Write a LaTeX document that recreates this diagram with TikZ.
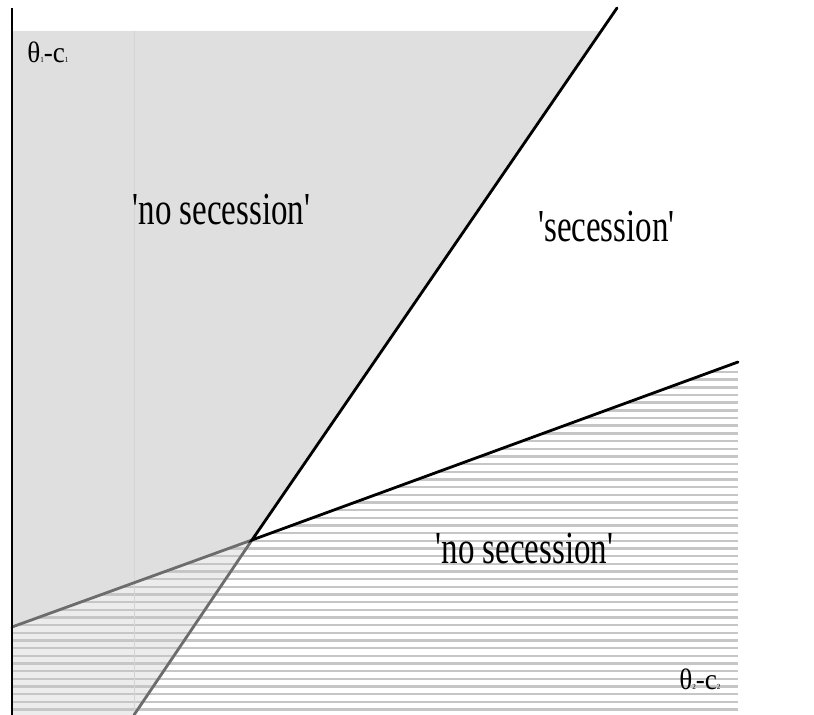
\documentclass[tikz,border=0pt]{standalone}
\usepackage{fontspec}
\setmainfont{Liberation Serif}[Ligatures=TeXOff]
\usepackage{xcolor}
\usepackage{tikz}
\usetikzlibrary{calc}
\definecolor{zoneGray}{HTML}{DFDFDF}
\definecolor{zonePale}{HTML}{ECECEC}
\definecolor{zoneStripe}{HTML}{C6C6C6}
\definecolor{zoneSeam}{HTML}{D4D4D4}
\definecolor{zoneLower}{HTML}{6C6C6C}
\newcommand{\narrow}[1]{\scalebox{.72}[1]{#1}}
\newcommand{\costlabel}[1]{\scalebox{.92}[1]{θ{\fontsize{5.5}{6}\selectfont #1}-c{\fontsize{5.5}{6}\selectfont #1}}}

\begin{document}
\begin{tikzpicture}[x=.025cm,y=-.025cm]
  \tikzset{zonetext/.style={anchor=base,inner sep=0pt,font=\fontsize{32.6}{36}\selectfont},
    costtext/.style={anchor=base west,inner sep=0pt,font=\fontsize{21}{24}\selectfont},
    border/.style={line width=2pt,line cap=round},
    stripe/.style={zoneStripe,line width=1.7pt}}
  \useasboundingbox (0,0) rectangle (814,715);
  \coordinate (cross) at (252,540);
  \coordinate (steepTop) at (617,8);
  \coordinate (steepFoot) at (134,715);
  \coordinate (shallowEnd) at (738,362);
  \coordinate (shallowFoot) at (12,627);
  \coordinate (axisTop) at (12,8);
  \coordinate (axisFoot) at (12,715);
  % shaded half-planes
  \fill[zoneGray] (12,31) -- (601.2,31) -- (cross) -- (shallowFoot) -- cycle;
  \fill[zonePale] (shallowFoot) -- (cross) -- (steepFoot) -- (axisFoot) -- cycle;
  \begin{scope}
    \clip (shallowFoot) -- (cross) -- (shallowEnd) -- (738,715) -- (axisFoot) -- cycle;
    \foreach \k in {0,...,44}
      \draw[stripe] (12,372+7.67*\k) -- (738,372+7.67*\k);
  \end{scope}
  \draw[zoneSeam,line width=.4pt] (134,31) -- (steepFoot);
  % boundaries
  \draw[zoneLower,border] (shallowFoot) -- (cross) -- (steepFoot);
  \draw[border] (steepTop) -- (cross) -- (shallowEnd);
  \draw[line width=1pt] (axisTop) -- (axisFoot);
  % labels
  \node[zonetext] (noNorth) at (221.5,225) {\narrow{'no secession'}};
  \node[zonetext] (yesZone) at (606.5,242) {\narrow{'secession'}};
  \node[zonetext] (noSouth) at (524.5,563) {\narrow{'no secession'}};
  \node[costtext] (costOne) at (27,63) {\costlabel{1}};
  \node[costtext] (costTwo) at (679,689) {\costlabel{2}};
\end{tikzpicture}
\end{document}
